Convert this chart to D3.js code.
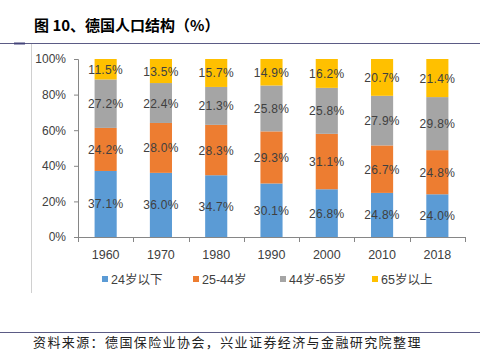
<!DOCTYPE html>
<html><head><meta charset="utf-8">
<script src="https://cdn.jsdelivr.net/npm/d3@7"></script>
<style>body{margin:0;background:#fff}svg{display:block}</style>
</head><body><svg id="c" width="480" height="356"></svg>
<script>
const years = ["1960","1970","1980","1990","2000","2010","2018"];
const seriesNames = ["24岁以下","25-44岁","44岁-65岁","65岁以上"];
const under24 = [37.1,36.0,34.7,30.1,26.8,24.8,24.0];
const age25to44 = [24.2,28.0,28.3,29.3,31.1,26.7,24.8];
const age44to65 = [27.2,22.4,21.3,25.8,25.8,27.9,29.8];
const over65 = [11.5,13.5,15.7,14.9,16.2,20.7,21.4];
const yTicks = [0,0.2,0.4,0.6,0.8,1.0];
const colors = ["#5B9BD5","#ED7D31","#A5A5A5","#FFC000"];

const svg = d3.select("#c");
const rows = years.map((y,i)=>({year:y, s0:under24[i], s1:age25to44[i], s2:age44to65[i], s3:over65[i]}));
const keys = ["s0","s1","s2","s3"];
const stack = d3.stack().keys(keys).offset(d3.stackOffsetExpand)(rows);

const x = d3.scaleBand().domain(years).range([78,465]).paddingInner(0.6).paddingOuter(0.3);
const y = d3.scaleLinear().domain([0,1]).range([237,59]);

// frame lines
svg.append("line").attr("x1",0).attr("x2",480).attr("y1",43.5).attr("y2",43.5).attr("stroke","#5b5b85").attr("stroke-width",1.2);
svg.append("line").attr("x1",14).attr("x2",25).attr("y1",43.5).attr("y2",43.5).attr("stroke","#44447a").attr("stroke-width",2);
svg.append("line").attr("x1",31.5).attr("x2",31.5).attr("y1",44).attr("y2",293).attr("stroke","#d0d0d0").attr("stroke-width",1);
svg.append("line").attr("x1",0).attr("x2",480).attr("y1",332.5).attr("y2",332.5).attr("stroke","#5b5b85").attr("stroke-width",1.2);

svg.append("text").attr("x",34).attr("y",31).attr("font-family","'Noto Sans CJK SC',sans-serif").attr("font-weight","bold").attr("font-size",15).attr("fill","#000").text("图 10、德国人口结构（%）");

svg.append("text").attr("x",33).attr("y",347).attr("font-family","'Noto Sans CJK SC',serif").attr("font-size",13).attr("letter-spacing",1.4).attr("fill","#222").text("资料来源：德国保险业协会，兴业证券经济与金融研究院整理");

// bars
const g = svg.append("g");
stack.forEach((layer,li)=>{
  g.selectAll(null).data(layer).enter().append("rect")
    .attr("x",d=>x(d.data.year)).attr("width",x.bandwidth())
    .attr("y",d=>y(d[1])).attr("height",d=>y(d[0])-y(d[1]))
    .attr("fill",colors[li]);
  g.selectAll(null).data(layer).enter().append("text")
    .attr("x",d=>x(d.data.year)+x.bandwidth()/2)
    .attr("y",d=>(y(d[0])+y(d[1]))/2+4.5)
    .attr("text-anchor","middle").attr("font-family","'Liberation Sans',Arial,sans-serif")
    .attr("font-size",12).attr("fill","#404040").attr("letter-spacing",0.3)
    .text(d=>d.data[keys[li]].toFixed(1)+"%");
});

// y axis
const yAxis = d3.axisLeft(y).tickValues(yTicks).tickFormat(d3.format(".0%")).tickSize(4).tickPadding(8);
const ya = svg.append("g").attr("transform","translate(78,0)").call(yAxis);
ya.select(".domain").attr("stroke","#868686").attr("d","M-4,59.5H0.5V237");
ya.selectAll(".tick line").attr("stroke","#868686");
ya.selectAll(".tick text").attr("font-family","'Liberation Sans',Arial,sans-serif").attr("font-size",12).attr("fill","#404040");

// x axis
const xa = svg.append("g").attr("transform","translate(0,237)");
xa.append("line").attr("x1",78).attr("x2",465).attr("y1",0.5).attr("y2",0.5).attr("stroke","#868686");
const bounds = d3.range(years.length+1).map(i=>78+i*(465-78)/years.length);
xa.selectAll(null).data(bounds).enter().append("line")
  .attr("x1",d=>Math.round(d)+0.5).attr("x2",d=>Math.round(d)+0.5).attr("y1",0).attr("y2",5).attr("stroke","#868686");
xa.selectAll(null).data(years).enter().append("text")
  .attr("x",d=>x(d)+x.bandwidth()/2).attr("y",22)
  .attr("text-anchor","middle").attr("font-family","'Liberation Sans',Arial,sans-serif").attr("font-size",12.5).attr("fill","#404040").text(d=>d);

// legend
const legX = [102,193,280,372];
const lg = svg.append("g");
seriesNames.forEach((n,i)=>{
  lg.append("rect").attr("x",legX[i]).attr("y",276).attr("width",6).attr("height",6).attr("fill",colors[i]);
  lg.append("text").attr("x",legX[i]+9).attr("y",284).attr("font-family","'Liberation Sans','Noto Sans CJK SC',sans-serif").attr("font-size",12.5).attr("fill","#404040").text(n);
});
</script></body></html>
